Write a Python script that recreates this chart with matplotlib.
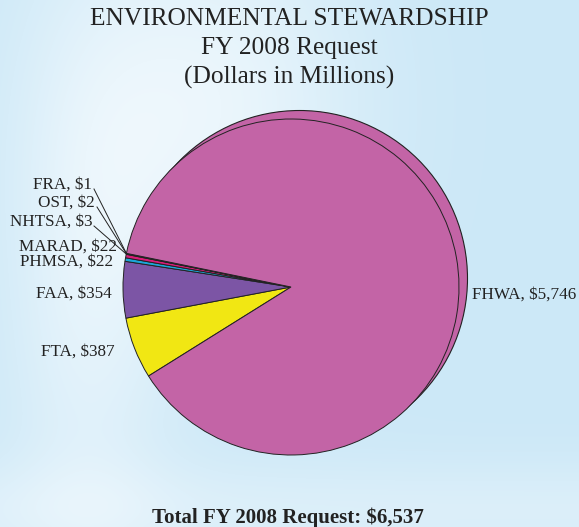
import numpy as np
import matplotlib
matplotlib.use("Agg")
import matplotlib.pyplot as plt
from matplotlib.patches import Circle

# data (FY 2008 request, $ millions), in drawing order (clockwise from lower left)
agencies = ["FTA", "FAA", "PHMSA", "MARAD", "NHTSA", "OST", "FRA", "FHWA"]
amounts = [387, 354, 22, 22, 3, 2, 1, 5746]
slice_colors = ["#f1e713", "#7c55a5", "#1ca6d8", "#d81c78",
                "#f4e41d", "#2f9a4a", "#d8382a", "#c364a6"]
total = 6537

# label anchors (pixel layout, right aligned except FHWA)
label_pos = {
    "FRA":   (92, 185),
    "OST":   (95, 203),
    "NHTSA": (92, 222),
    "MARAD": (117, 247),
    "PHMSA": (113, 262),
    "FAA":   (112, 294),
    "FTA":   (115, 352),
    "FHWA":  (472, 295),
}
leaders = ["FRA", "OST", "NHTSA"]

W, H = 579, 527
fig = plt.figure(figsize=(W / 100, H / 100), dpi=100)
ax = fig.add_axes([0, 0, 1, 1])

# soft sky background
yy, xx = np.mgrid[0:H, 0:W]
u = xx / W
v = yy / H
light = 0.6 * np.exp(-((u - 0.35) ** 2) / 0.07 - ((v - 0.2) ** 2) / 0.15)
light += 0.4 * np.exp(-((u - 0.15) ** 2) / 0.02 - ((v - 0.6) ** 2) / 0.3)
light += 0.3 * np.exp(-((v - 0.97) ** 2) / 0.01)
light = np.clip(light, 0, 0.9)
base = np.array([0.80, 0.91, 0.97])
img = base[None, None, :] * (1 - light[..., None]) + light[..., None]
ax.imshow(img, extent=[0, W, 0, H], origin="upper", zorder=0, aspect="auto")

cx, cy, r = 291, H - 287, 168

# back "shadow" disk
ax.add_patch(Circle((cx + 8.5, cy + 8.5), r, facecolor=slice_colors[-1],
                    edgecolor="#222222", linewidth=0.8, zorder=1))

wedges, _ = ax.pie(amounts, colors=slice_colors, startangle=212,
                   counterclock=False, center=(cx, cy), radius=r,
                   wedgeprops=dict(edgecolor="#222222", linewidth=0.7))
for w in wedges:
    w.set_zorder(2)

for name, amt, w in zip(agencies, amounts, wedges):
    x, y = label_pos[name]
    ha = "left" if name == "FHWA" else "right"
    ax.text(x, H - y, f"{name}, ${amt:,}", ha=ha, va="center",
            fontsize=12.3, family="Liberation Serif", color="#222222", zorder=3)
    if name in leaders:
        ang = np.deg2rad((w.theta1 + w.theta2) / 2)
        ex, ey = cx + r * np.cos(ang), cy + r * np.sin(ang)
        ax.plot([x + 2, ex], [H - y - 4, ey], color="#222222",
                linewidth=0.7, zorder=3)

title_lines = ["ENVIRONMENTAL STEWARDSHIP", "FY 2008 Request", "(Dollars in Millions)"]
for i, line in enumerate(title_lines):
    ax.text(W / 2, H - (19 + 29 * i), line, ha="center", va="center",
            fontsize=18.3, family="Liberation Serif", color="#222222", zorder=3)

ax.text(288, H - 518, f"Total FY 2008 Request: ${total:,}", ha="center",
        va="center", fontsize=15, fontweight="bold",
        family="Liberation Serif", color="#222222", zorder=3)

ax.set_xlim(0, W)
ax.set_ylim(0, H)
ax.set_aspect("auto")
ax.axis("off")

fig.savefig("out.png", dpi=100)
